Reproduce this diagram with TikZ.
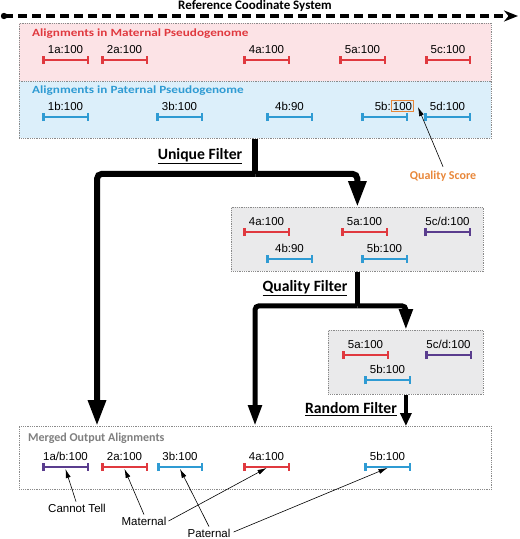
\documentclass[tikz,border=0pt]{standalone}
\usepackage{fontspec}
\setmainfont{Liberation Sans}
\newfontfamily\titlefont{Carlito}
\usetikzlibrary{arrows.meta,calc}
\definecolor{mred}{HTML}{E0393F}
\definecolor{pblue}{HTML}{2F9BD3}
\definecolor{purp}{HTML}{5A3D8E}
\definecolor{qorange}{HTML}{E8873A}
\definecolor{pinkfill}{HTML}{FCE3E6}
\definecolor{bluefill}{HTML}{DCEFFA}
\definecolor{grayfill}{HTML}{EAEAEB}
\definecolor{boxline}{HTML}{8A8A8A}
\definecolor{mergegray}{HTML}{7F7F7F}
\newcommand\alnseg[6]{% name, x1, x2, y, color, label
  \draw[segline,#5] (#2,#4) -- (#3,#4);
  \coordinate (#1) at ({(#2+#3)/2},#4);
  \node[lbl,anchor=base] (#1-l) at ($(#1)+(0,-7)$) {#6};}
\begin{document}
\begin{tikzpicture}[x=1pt,y=-1pt,
  segline/.style={line width=2.5pt,{Bar[width=8pt]}-{Bar[width=8pt]}},
  lbl/.style={font=\fontsize{11.5}{13}\selectfont,inner sep=0pt},
  pbox/.style={draw=boxline,densely dotted,line width=0.8pt,anchor=north west,inner sep=0pt},
  btitle/.style={font=\titlefont\bfseries\fontsize{11}{13}\selectfont,anchor=west,inner sep=0pt},
  ftitle/.style={font=\titlefont\bfseries\fontsize{15.7}{18}\selectfont,inner sep=0pt},
  uline/.style={line width=6pt,rounded corners=5pt},
  qline/.style={line width=5pt,rounded corners=4pt},
  annarrow/.style={line width=0.6pt,-{Latex[length=9pt,width=5pt]}}]
\useasboundingbox (0,0) rectangle (520,539);

% reference axis
\node[font=\titlefont\bfseries\fontsize{13}{15}\selectfont,inner sep=0pt] (reftitle) at (255,6) {Reference Coodinate System};
\fill (4,16) circle (3.2pt) coordinate (axstart);
\coordinate (axend) at (518,16);
\draw[line width=3.2pt,dash pattern=on 9pt off 5pt,-{Stealth[length=14pt,width=11pt]}] (axstart) -- (axend);

% maternal box
\node[pbox,fill=pinkfill,minimum width=472pt,minimum height=58pt] (mat) at (19,23) {};
\node[btitle,text=mred,xscale=1.2] (mattitle) at (32,34) {Alignments in Maternal Pseudogenome};
\alnseg{m1}{42}{89}{60}{mred}{1a:100}
\alnseg{m2}{101}{148}{60}{mred}{2a:100}
\alnseg{m4}{243}{290}{60}{mred}{4a:100}
\alnseg{m5a}{339}{386}{60}{mred}{5a:100}
\alnseg{m5c}{425}{471}{60}{mred}{5c:100}

% paternal box
\node[pbox,fill=bluefill,minimum width=472pt,minimum height=57pt] (pat) at (19,81) {};
\node[btitle,text=pblue,xscale=1.2] (pattitle) at (32,91) {Alignments in Paternal Pseudogenome};
\alnseg{p1}{42}{89}{117}{pblue}{1b:100}
\alnseg{p3}{156}{203}{117}{pblue}{3b:100}
\alnseg{p4}{266}{313}{117}{pblue}{4b:90}
\draw[segline,pblue] (361,117) -- (408,117);
\node[lbl,anchor=base east] (q5b) at (391,110) {5b:};
\node[lbl,anchor=base west,draw=qorange,line width=0.8pt,inner sep=1.5pt] (qs100) at (q5b.base east) {100};
\alnseg{p5d}{424}{471}{117}{pblue}{5d:100}

% quality score annotation
\node[font=\titlefont\bfseries\fontsize{12}{14}\selectfont,text=qorange,inner sep=0pt] (qscore) at (443,176) {Quality Score};
\draw[annarrow] ($(qscore.north)+(0,-4)$) -- ($(qs100.east)+(4,1)$);

% filter 1 result box
\node[pbox,fill=grayfill,minimum width=252pt,minimum height=64pt] (g1) at (231,207) {};
\alnseg{g1a}{243}{290}{232}{mred}{4a:100}
\alnseg{g1b}{341}{388}{232}{mred}{5a:100}
\alnseg{g1c}{424}{471}{232}{purp}{5c/d:100}
\alnseg{g1d}{266}{313}{259}{pblue}{4b:90}
\alnseg{g1e}{361}{408}{259}{pblue}{5b:100}

% filter 2 result box
\node[pbox,fill=grayfill,minimum width=155pt,minimum height=64pt] (g2) at (328,330) {};
\alnseg{g2a}{342}{389}{355}{mred}{5a:100}
\alnseg{g2b}{425}{472}{355}{purp}{5c/d:100}
\alnseg{g2c}{364}{411}{380}{pblue}{5b:100}

% output box
\node[pbox,fill=white,minimum width=472pt,minimum height=63pt] (out) at (19,426) {};
\node[btitle,text=mergegray,font=\titlefont\bfseries\fontsize{12}{14}\selectfont] (outtitle) at (28,438) {Merged Output Alignments};
\alnseg{o1}{42}{89}{467}{purp}{1a/b:100}
\alnseg{o2}{101}{148}{467}{mred}{2a:100}
\alnseg{o3}{157}{203}{467}{pblue}{3b:100}
\alnseg{o4}{243}{290}{467}{mred}{4a:100}
\alnseg{o5}{364}{411}{467}{pblue}{5b:100}

% unique filter
\node[ftitle] (uf) at (200,156) {\underline{Unique Filter}};
\coordinate (ujoin) at ($(pat.south)+(0,35)$);
\coordinate (uleft) at (97,426);
\draw[uline] (pat.south) -- (ujoin);
\draw[uline,-{Triangle[length=26pt,width=17pt]}] (ujoin) -| (g1.north);
\draw[uline,-{Triangle[length=26pt,width=17pt]}] (ujoin) -| (uleft);

% quality filter
\node[ftitle] (qf) at (305,288) {\underline{Quality Filter}};
\coordinate (qjoin) at ($(g1.south)+(0,34)$);
\coordinate (qleft) at (255,426);
\draw[qline] (g1.south) -- (qjoin);
\draw[qline,-{Triangle[length=21pt,width=13pt]}] (qjoin) -| (g2.north);
\draw[qline,-{Triangle[length=21pt,width=13pt]}] (qjoin) -| (qleft);

% random filter
\node[ftitle] (rf) at (351,409) {\underline{Random Filter}};
\coordinate (rend) at (g2.south |- out.north);
\draw[line width=3.5pt,-{Triangle[length=13pt,width=11pt]}] (g2.south) -- (rend);

% annotations
\node[lbl] (lblcannot) at (77,508) {Cannot Tell};
\node[lbl] (lblmat) at (144,521) {Maternal};
\node[lbl] (lblpat) at (209,533) {Paternal};
\draw[annarrow] ($(lblcannot.north)+(-1,-2)$) -- ($(o1)+(0,2)$);
\draw[annarrow] ($(lblmat.north)+(0,-2)$) -- ($(o2)+(0,2)$);
\draw[annarrow] ($(lblmat.east)+(2,0)$) -- ($(o4)+(0,1)$);
\draw[annarrow] ($(lblpat.north)+(0,-2)$) -- ($(o3)+(0,2)$);
\draw[annarrow] ($(lblpat.east)+(3,-1)$) -- ($(o5)+(0,1)$);
\end{tikzpicture}
\end{document}
